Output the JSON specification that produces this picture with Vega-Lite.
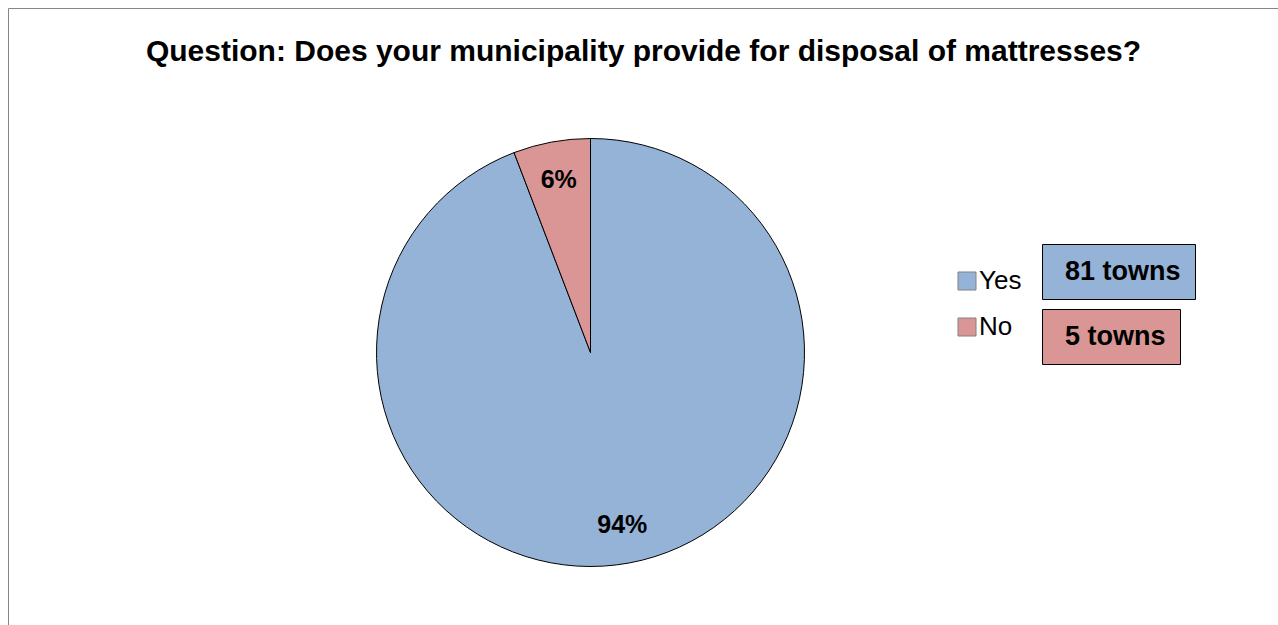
{
  "$schema": "https://vega.github.io/schema/vega-lite/v6.json",
  "width": 1271,
  "height": 618,
  "autosize": {"type": "none"},
  "padding": {"left": 8, "top": 8, "right": -1, "bottom": -1},
  "background": "white",
  "view": {"stroke": "#868686", "strokeWidth": 1, "fill": "white"},
  "config": {
    "font": "Liberation Sans"
  },
  "title": {
    "text": "Question: Does your municipality provide for disposal of mattresses?",
    "font": "Liberation Sans",
    "fontSize": 30,
    "fontWeight": "bold",
    "color": "#000000",
    "anchor": "middle",
    "frame": "group",
    "baseline": "alphabetic",
    "offset": -51,
    "dy": 32
  },
  "data": {
    "values": [
      {"answer": "Yes", "count": 81, "pct": "94%", "towns": "81 towns"},
      {"answer": "No", "count": 5, "pct": "6%", "towns": "5 towns"}
    ]
  },
  "layer": [
    {
      "mark": {"type": "arc", "radius": 214, "stroke": "#000000", "strokeWidth": 1, "xOffset": -53, "yOffset": 35.5},
      "encoding": {
        "theta": {"field": "count", "type": "quantitative", "stack": true},
        "order": {"field": "count", "sort": "descending"},
        "color": {
          "field": "answer",
          "type": "nominal",
          "scale": {"domain": ["Yes", "No"], "range": ["#95B3D7", "#D99694"]},
          "legend": {
            "title": null,
            "orient": "none",
            "legendX": 946,
            "legendY": 260,
            "padding": 0,
            "symbolType": "square",
            "symbolSize": 324,
            "symbolStrokeColor": "#808080",
            "symbolStrokeWidth": 1,
            "labelFont": "Liberation Sans",
            "labelFontSize": 26,
            "labelColor": "#000000",
            "labelOffset": -1,
            "rowPadding": 20
          }
        }
      }
    },
    {
      "mark": {"type": "text", "radius": 175, "font": "Liberation Sans", "fontSize": 25, "fontWeight": "bold", "color": "#000000", "xOffset": -53, "yOffset": 35.5},
      "encoding": {
        "theta": {"field": "count", "type": "quantitative", "stack": true},
        "order": {"field": "count", "sort": "descending"},
        "text": {"field": "pct", "type": "nominal"}
      }
    },
    {
      "transform": [{"filter": "datum.answer === 'Yes'"}],
      "mark": {"type": "point", "opacity": 0},
      "encoding": {
        "shape": {
          "field": "towns",
          "type": "nominal",
          "legend": {
            "title": null,
            "orient": "none",
            "legendX": 1034,
            "legendY": 236,
            "padding": 14,
            "fillColor": "#95B3D7",
            "strokeColor": "#000000",
            "symbolOpacity": 0,
            "symbolSize": 1,
            "labelOffset": -18,
            "labelFont": "Liberation Sans",
            "labelFontSize": 27,
            "labelFontWeight": "bold",
            "labelColor": "#000000"
          }
        }
      }
    },
    {
      "transform": [{"filter": "datum.answer === 'No'"}],
      "mark": {"type": "point", "opacity": 0},
      "encoding": {
        "shape": {
          "field": "towns",
          "type": "nominal",
          "legend": {
            "title": null,
            "orient": "none",
            "legendX": 1034,
            "legendY": 301,
            "padding": 14,
            "fillColor": "#D99694",
            "strokeColor": "#000000",
            "symbolOpacity": 0,
            "symbolSize": 1,
            "labelOffset": -18,
            "labelFont": "Liberation Sans",
            "labelFontSize": 27,
            "labelFontWeight": "bold",
            "labelColor": "#000000"
          }
        }
      }
    }
  ],
  "resolve": {"scale": {"shape": "independent"}, "legend": {"shape": "independent"}}
}
